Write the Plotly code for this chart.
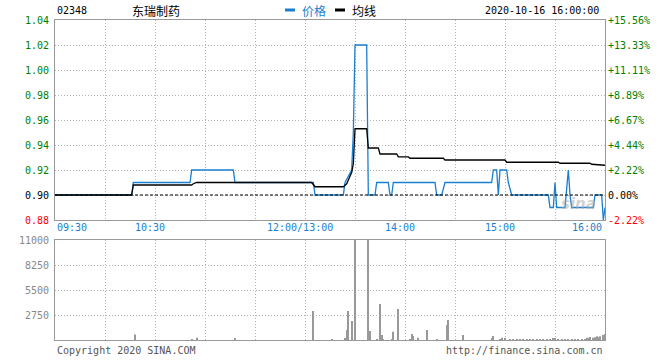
import plotly.graph_objects as go

# ---------------- data ----------------
code = "02348"
name = "东瑞制药"
stamp = "2020-10-16 16:00:00"
prev_close = 0.90

price_times = ["09:30", "10:16", "10:17", "10:51", "10:52", "11:17", "11:18", "13:05", "13:06",
               "13:23", "13:24", "13:28", "13:29", "13:30", "13:37", "13:38", "13:42", "13:43",
               "13:50", "13:51", "13:52", "13:53", "14:18", "14:19", "14:22", "14:24", "14:52",
               "14:53", "14:55", "14:56", "14:57", "15:01", "15:02", "15:04", "15:26", "15:27",
               "15:29", "15:30", "15:31", "15:36", "15:38", "15:39", "15:40", "15:53", "15:54",
               "15:58", "15:59", "16:00"]
price_vals = [0.90, 0.90, 0.91, 0.91, 0.92, 0.92, 0.91, 0.91, 0.90,
              0.90, 0.91, 0.92, 0.95, 1.02, 1.02, 0.90, 0.90, 0.91,
              0.91, 0.90, 0.90, 0.91, 0.91, 0.90, 0.90, 0.91, 0.91,
              0.92, 0.92, 0.90, 0.92, 0.92, 0.91, 0.90, 0.90, 0.89,
              0.89, 0.91, 0.89, 0.89, 0.92, 0.90, 0.89, 0.89, 0.90,
              0.90, 0.88, 0.89]

avg_times = ["09:30", "10:16", "10:17", "10:52", "10:53", "10:55", "13:04", "13:06", "13:23",
             "13:25", "13:26", "13:27", "13:28", "13:29", "13:30", "13:37", "13:38", "13:44",
             "13:45", "13:55", "13:56", "14:02", "14:03", "14:23", "14:24", "15:00", "15:01",
             "15:32", "15:33", "15:51", "15:52", "16:00"]
avg_vals = [0.900, 0.900, 0.908, 0.908, 0.909, 0.910, 0.910, 0.9066, 0.9066,
            0.909, 0.912, 0.915, 0.918, 0.925, 0.953, 0.953, 0.9376, 0.9376,
            0.9328, 0.9328, 0.9305, 0.9305, 0.9294, 0.9294, 0.928, 0.928, 0.9262,
            0.9262, 0.9254, 0.9254, 0.9246, 0.9238]

vol_times = ["10:18", "10:52", "10:55", "11:18", "13:05", "13:16", "13:24", "13:25", "13:26",
             "13:28", "13:30", "13:38", "13:39", "13:43", "13:45", "13:46", "13:47", "13:52",
             "13:53", "13:56", "14:03", "14:04", "14:05", "14:08", "14:13", "14:19", "14:25",
             "14:26", "14:35", "14:52", "14:53", "14:57", "14:58", "15:00", "15:03", "15:05",
             "15:07", "15:09", "15:11", "15:13", "15:15", "15:17", "15:19", "15:21", "15:23",
             "15:25", "15:27", "15:29", "15:30", "15:32", "15:34", "15:36", "15:38", "15:40",
             "15:42", "15:44", "15:46", "15:48", "15:49", "15:50", "15:51", "15:53", "15:54",
             "15:55", "15:56", "15:57", "15:59", "16:00"]
vol_vals = [600, 110, 250, 200, 3200, 110, 180, 1100, 3190,
            2090, 20000, 20000, 990, 110, 3960, 550, 110, 110,
            920, 3410, 110, 660, 440, 250, 1100, 110, 1650,
            2200, 550, 150, 440, 110, 250, 180, 100, 100,
            100, 100, 100, 100, 100, 100, 100, 100, 100,
            100, 100, 180, 180, 100, 100, 100, 100, 100,
            100, 100, 100, 100, 250, 200, 330, 250, 300,
            420, 300, 400, 550, 650]

price_ticks = [0.88, 0.90, 0.92, 0.94, 0.96, 0.98, 1.00, 1.02, 1.04]
vol_ticks = [2750, 5500, 8250, 11000]
time_labels = ["09:30", "10:30", "12:00/13:00", "14:00", "15:00", "16:00"]
time_label_pos = ["09:30", "10:30", "13:00", "14:00", "15:00", "16:00"]


# ---------------- helpers ----------------
def tmin(s):
    h, m = map(int, s.split(":"))
    t = h * 60 + m
    return t - 570 if t <= 720 else t - 780 + 150


GREEN, RED, BLACK = "#008000", "#ff0000", "#000000"
BLUE = "#1a7fd0"
GRAY = "#999999"
GRID = "#b4b4b4"
MONO = "DejaVu Sans Mono, monospace"
CJK = "Noto Sans CJK SC, sans-serif"


def col(v):
    return GREEN if v > prev_close + 1e-9 else (RED if v < prev_close - 1e-9 else BLACK)


px = [tmin(t) for t in price_times]
ax = [tmin(t) for t in avg_times]
vx = [tmin(t) for t in vol_times]

pct_ticks = [(v - prev_close) / prev_close * 100 for v in price_ticks]

fig = go.Figure()
fig.add_trace(go.Bar(x=vx, y=vol_vals, width=0.7, marker=dict(color=GRAY, line=dict(width=0)),
                     xaxis="x2", yaxis="y3", hoverinfo="skip"))
fig.add_trace(go.Scatter(x=px, y=price_vals, mode="lines", line=dict(color=BLUE, width=1.3),
                         xaxis="x", yaxis="y", hoverinfo="skip"))
fig.add_trace(go.Scatter(x=ax, y=avg_vals, mode="lines", line=dict(color=BLACK, width=1.3),
                         xaxis="x", yaxis="y", hoverinfo="skip"))
fig.add_trace(go.Scatter(x=[0, 330], y=[pct_ticks[0], pct_ticks[-1]], mode="lines",
                         line=dict(width=0), opacity=0, xaxis="x", yaxis="y2", hoverinfo="skip"))

grid_x = list(range(0, 331, 30))

common_x = dict(range=[0, 330], tickvals=grid_x, showticklabels=False, ticks="",
                showgrid=True, gridcolor=GRID, griddash="1px,2px", gridwidth=1,
                showline=True, linecolor=GRAY, linewidth=1, mirror=True, zeroline=False)

fig.update_layout(
    width=660, height=360,
    margin=dict(l=55, r=55, t=20, b=20, autoexpand=False),
    paper_bgcolor="white", plot_bgcolor="white",
    showlegend=False,
    xaxis=dict(domain=[0, 1], anchor="y", **common_x),
    xaxis2=dict(domain=[0, 1], anchor="y3", matches="x", **common_x),
    yaxis=dict(domain=[0.375, 1], range=[0.88, 1.04], tickvals=price_ticks,
               ticktext=[f'<span style="color:{col(v)}">{v:.2f}</span>' for v in price_ticks],
               tickfont=dict(family=MONO, size=10), ticks="", ticklabelstandoff=3,
               showgrid=True, gridcolor=GRID, griddash="1px,2px", gridwidth=1,
               showline=True, linecolor=GRAY, linewidth=1, mirror=True, zeroline=False),
    yaxis2=dict(overlaying="y", side="right", anchor="x", range=[pct_ticks[0], pct_ticks[-1]],
                tickvals=pct_ticks,
                ticktext=[f'<span style="color:{col(v)}">{("+" if p > 0.001 else ("-" if p < -0.001 else ""))}{abs(p):.2f}%</span>'
                          for v, p in zip(price_ticks, pct_ticks)],
                tickfont=dict(family=MONO, size=10), ticks="", ticklabelstandoff=2,
                showgrid=False, zeroline=False, showline=False),
    yaxis3=dict(domain=[0, 0.3125], range=[0, 11000], tickvals=vol_ticks,
                ticktext=[str(v) for v in vol_ticks],
                tickfont=dict(family=MONO, size=10, color="#888888"), ticks="", ticklabelstandoff=3,
                showgrid=True, gridcolor=GRID, griddash="1px,2px", gridwidth=1,
                showline=True, linecolor=GRAY, linewidth=1, mirror=True, zeroline=False),
)

# previous close reference line
fig.add_shape(type="line", xref="x", yref="y", x0=0, x1=330, y0=prev_close, y1=prev_close,
              line=dict(color=BLACK, width=1, dash="3px,2px"))

# time labels
for lab, pos in zip(time_labels, time_label_pos):
    m = tmin(pos)
    if m == 0:
        xa, xs = "left", 0
    elif m == 330:
        xa, xs = "right", -1
    else:
        xa, xs = "center", -5
    fig.add_annotation(x=m, y=0.375, xref="x", yref="paper", yanchor="top",
                       xanchor=xa, xshift=xs, yshift=0, text=lab, showarrow=False,
                       font=dict(family=MONO, size=10, color=BLUE))

# header
hy = 1 + 10 / 320
fig.add_annotation(x=0, y=hy, xref="paper", yref="paper", xanchor="left", yanchor="middle",
                   text=code, showarrow=False, font=dict(family=MONO, size=10, color=BLACK))
fig.add_annotation(x=75 / 550, y=hy, xref="paper", yref="paper", xanchor="left", yanchor="middle",
                   text=name, showarrow=False, font=dict(family=CJK, size=12, color=BLACK))
fig.add_shape(type="line", xref="paper", yref="paper", x0=230 / 550, x1=240 / 550, y0=hy, y1=hy,
              line=dict(color=BLUE, width=3))
fig.add_annotation(x=245 / 550, y=hy, xref="paper", yref="paper", xanchor="left", yanchor="middle",
                   text="价格", showarrow=False, font=dict(family=CJK, size=12, color=BLUE))
fig.add_shape(type="line", xref="paper", yref="paper", x0=280 / 550, x1=290 / 550, y0=hy, y1=hy,
              line=dict(color=BLACK, width=3))
fig.add_annotation(x=295 / 550, y=hy, xref="paper", yref="paper", xanchor="left", yanchor="middle",
                   text="均线", showarrow=False, font=dict(family=CJK, size=12, color=BLACK))
fig.add_annotation(x=1, y=hy, xref="paper", yref="paper", xanchor="right", yanchor="middle",
                   xshift=-4, text=stamp, showarrow=False, font=dict(family=MONO, size=10, color=BLACK))

# footer
fy = -10 / 320
fig.add_annotation(x=0, y=fy, xref="paper", yref="paper", xanchor="left", yanchor="middle",
                   text="Copyright 2020 SINA.COM", showarrow=False,
                   font=dict(family=MONO, size=10, color="#555555"))
fig.add_annotation(x=1, y=fy, xref="paper", yref="paper", xanchor="right", yanchor="middle",
                   text="http://finance.sina.com.cn", showarrow=False,
                   font=dict(family=MONO, size=10, color="#555555"))

# watermark
fig.add_annotation(x=314, y=0.884, xref="x", yref="y", xanchor="center", yanchor="bottom",
                   text="<i><b>sina</b></i>", showarrow=False,
                   font=dict(family="DejaVu Sans", size=15, color="rgba(170,170,170,0.55)"))

fig.write_html("out.html", config={"displayModeBar": False},
               post_script="document.body.style.margin='0px';")
